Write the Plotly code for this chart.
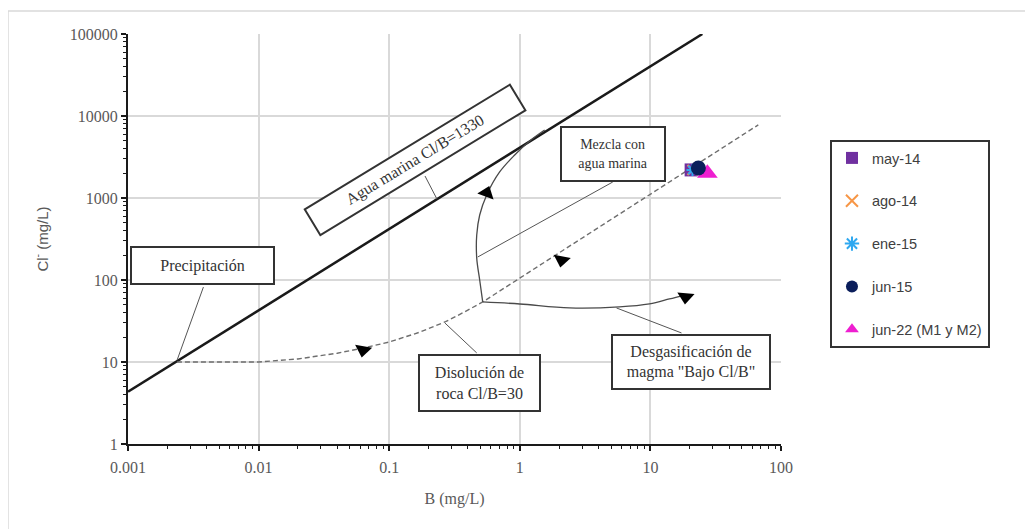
import plotly.graph_objects as go
import numpy as np

# ---------------- data ----------------
# seawater line
sw_B = [0.001, 25]
sw_Cl = [4.35, 100000]

# rock dissolution (dashed) curve
rock_B = [0.00237, 0.004, 0.007, 0.01, 0.02, 0.04, 0.063, 0.1, 0.17, 0.27, 0.38, 0.52, 67]
rock_Cl = [10, 10.0, 9.9, 10, 10.9, 12.8, 14.8, 17.5, 23, 31, 41, 54, 7800]

# mixing with seawater curve
mix_B = [0.52, 0.493, 0.468, 0.468, 0.493, 0.558, 0.701, 0.914, 1.19, 1.55]
mix_Cl = [54, 100, 185, 354, 621, 1090, 2076, 3344, 4955, 6740]

# magma degassing curve
deg_B = [0.52, 1.0, 2.4, 5.8, 9.84, 14.0, 18.2]
deg_Cl = [54, 51, 45.6, 46.9, 51, 58.7, 65.6]

# arrow heads along the curves
arrow_B = [0.063, 0.558, 2.09, 18.6]
arrow_Cl = [14.0, 1150, 175, 62]
arrow_symbol = ["triangle-down", "triangle-up", "triangle-down", "triangle-down"]
arrow_angle = [10, 20, 10, 5]

# samples
series_names = ["may-14", "ago-14", "ene-15", "jun-15", "jun-22 (M1 y M2)"]
series_B = [[20.5], [21.0], [21.0], [23.3], [27.3]]
series_Cl = [[2200], [2200], [2200], [2320], [2000]]

# callout leader lines (start / end)
leader_B = [[0.00378, 0.00238], [0.188, 0.232], [5.15, 0.477], [0.468, 0.267], [17.3, 5.5]]
leader_Cl = [[82, 10.6], [1854, 972], [1567, 191], [12.9, 29.9], [22.6, 45.6]]

# callout boxes
box_text = ["Precipitación", "Agua marina Cl/B=1330", "Mezcla con<br>agua marina",
            "Disolución de<br>roca Cl/B=30", "Desgasificación de<br>magma \"Bajo Cl/B\""]
box_B = [0.00373, 0.157, 5.13, 0.49, 20.6]
box_Cl = [150, 2925, 3444, 5.55, 10.0]

x_ticks = [0.001, 0.01, 0.1, 1, 10, 100]
x_ticklabels = ["0.001", "0.01", "0.1", "1", "10", "100"]
y_ticks = [1, 10, 100, 1000, 10000, 100000]
y_ticklabels = ["1", "10", "100", "1000", "10000", "100000"]

# ---------------- figure ----------------
fig = go.Figure()

fig.add_trace(go.Scatter(x=sw_B, y=sw_Cl, mode="lines",
                         line=dict(color="#1a1a1a", width=2.5), showlegend=False, hoverinfo="skip"))
fig.add_trace(go.Scatter(x=rock_B, y=rock_Cl, mode="lines",
                         line=dict(color="#6e6e6e", width=1.4, dash="5px,3px"), showlegend=False, hoverinfo="skip"))
fig.add_trace(go.Scatter(x=mix_B, y=mix_Cl, mode="lines", line_shape="spline",
                         line=dict(color="#4a4a4a", width=1.3), showlegend=False, hoverinfo="skip"))
fig.add_trace(go.Scatter(x=deg_B, y=deg_Cl, mode="lines", line_shape="spline",
                         line=dict(color="#4a4a4a", width=1.3), showlegend=False, hoverinfo="skip"))
for lb, lc in zip(leader_B, leader_Cl):
    fig.add_trace(go.Scatter(x=lb, y=lc, mode="lines",
                             line=dict(color="#555555", width=1), showlegend=False, hoverinfo="skip"))
fig.add_trace(go.Scatter(x=arrow_B, y=arrow_Cl, mode="markers",
                         marker=dict(symbol=arrow_symbol, angle=arrow_angle, size=15, color="black"),
                         showlegend=False, hoverinfo="skip"))

styles = [
    dict(symbol="square", color="#7030A0", size=13, line=dict(width=0)),
    dict(symbol="x-thin-open", color="#F79646", size=10, line=dict(width=2, color="#F79646")),
    dict(symbol="asterisk-open", color="#2EA8F0", size=10, line=dict(width=2, color="#2EA8F0")),
    dict(symbol="circle", color="#0B1E5B", size=15, line=dict(width=0)),
    dict(symbol="triangle-up", color="#EE1FD0", size=18, line=dict(width=0)),
]
order = [0, 1, 2, 4, 3]
for i in order:
    fig.add_trace(go.Scatter(x=series_B[i], y=series_Cl[i], mode="markers", name=series_names[i],
                             marker=styles[i], legendrank=i + 1, legendgroup=series_names[i]))

serif = "Liberation Serif"
sans = "Liberation Sans"

angles = [0, -31.3, 0, 0, 0]
widths = [141, 238, 102, 119, 156]
heights = [35, 28, 52, 54, 52]
sizes = [16, 16, 14, 16, 16]
for t, bx, cy, a, w, h, s in zip(box_text, box_B, box_Cl, angles, widths, heights, sizes):
    fig.add_annotation(x=np.log10(bx), y=np.log10(cy), xref="x", yref="y", text=t, showarrow=False,
                       textangle=a, width=w, height=h, bordercolor="#333333", borderwidth=2,
                       borderpad=0, bgcolor="white", font=dict(family=serif, size=s, color="#333333"),
                       align="center", valign="middle")

# outer light frame (top and left)
fig.add_shape(type="line", xref="paper", yref="paper", x0=-0.1838, x1=1.4, y0=1.0561, y1=1.0561,
              line=dict(color="#d9d9d9", width=1.5))
fig.add_shape(type="line", xref="paper", yref="paper", x0=-0.1838, x1=-0.1838, y0=1.0561, y1=-0.21,
              line=dict(color="#d9d9d9", width=1.5))


def minor_vals(lo, hi):
    return [m * 10.0 ** e for e in range(lo, hi) for m in range(2, 10)]


axis_common = dict(
    type="log", tickmode="array",
    showgrid=True, gridcolor="#d9d9d9", gridwidth=1.5,
    showline=True, linecolor="#1a1a1a", linewidth=2, ticks="outside", ticklen=5,
    tickcolor="#1a1a1a", tickwidth=1.5,
    tickfont=dict(family=serif, size=16, color="#595959"),
    zeroline=False,
)
fig.update_xaxes(range=[-3, 2], tickvals=x_ticks, ticktext=x_ticklabels, ticklabelstandoff=3,
                 minor=dict(tickmode="array", tickvals=minor_vals(-3, 2), ticks="outside", ticklen=3,
                            tickcolor="#1a1a1a", tickwidth=1.2, showgrid=False),
                 **axis_common,
                 title=dict(text="B (mg/L)", font=dict(family=serif, size=16, color="#595959"), standoff=18))
fig.update_yaxes(range=[0, 5], tickvals=y_ticks, ticktext=y_ticklabels,
                 minor=dict(tickmode="array", tickvals=minor_vals(0, 5), ticks="outside", ticklen=3,
                            tickcolor="#1a1a1a", tickwidth=1.2, showgrid=False),
                 **axis_common,
                 title=dict(text="Cl<sup>-</sup> (mg/L)", font=dict(family=sans, size=15, color="#595959"), standoff=18))

fig.update_layout(
    width=1025, height=521,
    margin=dict(l=120, r=252, t=26, b=85),
    paper_bgcolor="white", plot_bgcolor="white",
    legend=dict(x=1.075, y=0.7415, xanchor="left", yanchor="top",
                bordercolor="#333333", borderwidth=2, bgcolor="white",
                font=dict(family=sans, size=14.5, color="#404040"),
                tracegroupgap=21, traceorder="grouped", itemsizing="constant", itemwidth=30),
    showlegend=True,
)

fig.write_html("out.html")
